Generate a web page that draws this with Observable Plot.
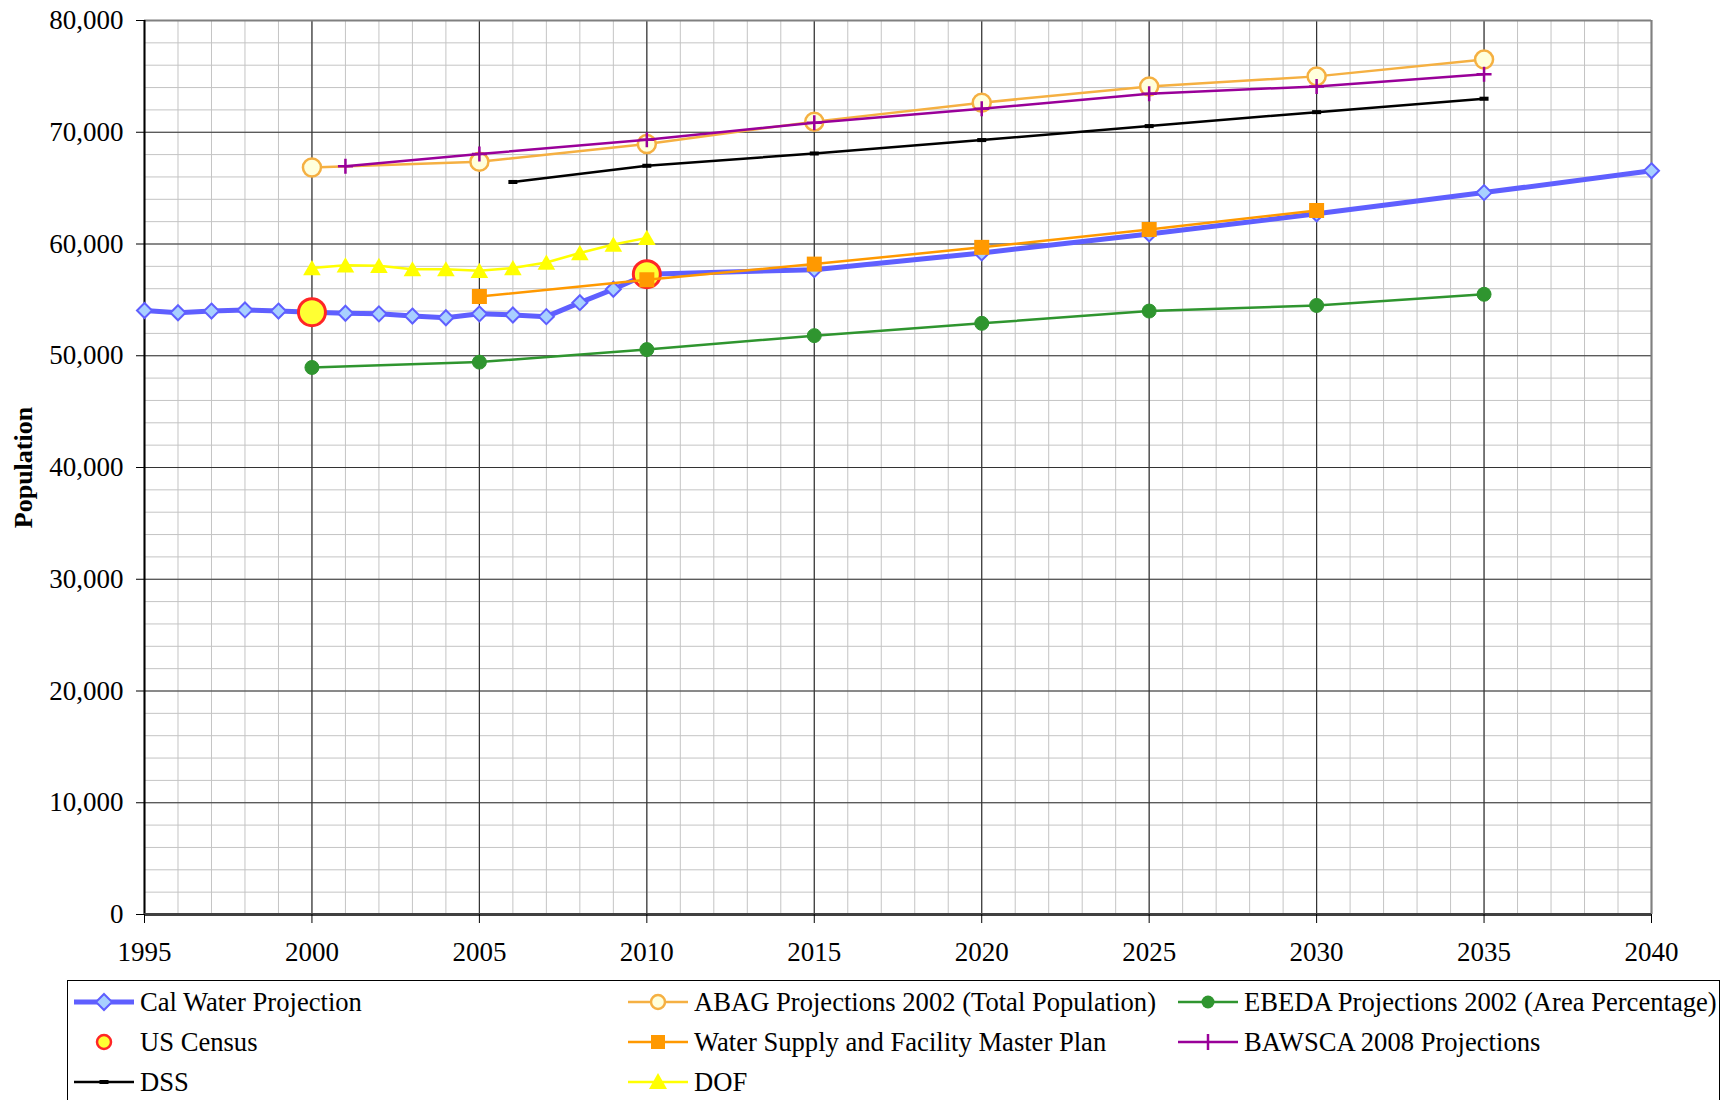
<!DOCTYPE html>
<html>
<head>
<meta charset="utf-8">
<script src="https://cdn.jsdelivr.net/npm/d3@7"></script>
<script src="https://cdn.jsdelivr.net/npm/@observablehq/plot@0.6"></script>
<style>
  html, body { margin: 0; padding: 0; background: #fff; }
  #wrap { position: relative; width: 1734px; height: 1100px; overflow: hidden; font-family: 'Liberation Serif', 'Times New Roman', serif; }
  #chart svg { display: block; }
  #legend { position: absolute; left: 67px; top: 980px; width: 1653px; height: 200px; border: 1.5px solid #000; box-sizing: border-box; background: #fff; }
  .item { position: absolute; height: 40px; display: flex; align-items: center; font-size: 26.6px; color: #000; white-space: nowrap; }
  .item svg { display: block; margin-right: 6px; }
</style>
</head>
<body>
<div id="wrap">
  <div id="chart"></div>
  <div id="legend"></div>
</div>
<script>
// ---------- data ----------
const calWaterYears = [1995,1996,1997,1998,1999,2000,2001,2002,2003,2004,2005,2006,2007,2008,2009,2010,2015,2020,2025,2030,2035,2040];
const calWaterPop   = [54050,53850,54000,54100,54000,53900,53800,53750,53550,53400,53750,53650,53500,54750,55950,57300,57700,59200,60900,62700,64600,66550];

const abagYears = [2000,2005,2010,2015,2020,2025,2030,2035];
const abagPop   = [66850,67350,68950,70950,72650,74100,75000,76500];

const ebedaYears = [2000,2005,2010,2015,2020,2025,2030,2035];
const ebedaPop   = [48950,49430,50550,51800,52900,54000,54500,55500];

const censusYears = [2000,2010];
const censusPop   = [53900,57300];

const masterPlanYears = [2005,2010,2015,2020,2025,2030];
const masterPlanPop   = [55300,56800,58200,59700,61300,63000];

const bawscaYears = [2001,2005,2010,2015,2020,2025,2030,2035];
const bawscaPop   = [66950,68050,69330,70850,72100,73450,74100,75200];

const dssYears = [2006,2010,2015,2020,2025,2030,2035];
const dssPop   = [65550,67000,68100,69300,70550,71800,73000];

const dofYears = [2000,2001,2002,2003,2004,2005,2006,2007,2008,2009,2010];
const dofPop   = [57850,58100,58050,57750,57750,57600,57850,58350,59200,59950,60550];

const xTicks = [1995,2000,2005,2010,2015,2020,2025,2030,2035,2040];
const yTicks = [0,10000,20000,30000,40000,50000,60000,70000,80000];
const minorYears = d3.range(1995, 2041, 1);
const minorPops = d3.range(0, 80001, 2000);

const seriesNames = [
  "Cal Water Projection",
  "ABAG Projections 2002 (Total Population)",
  "EBEDA Projections 2002 (Area Percentage)",
  "US Census",
  "Water Supply and Facility Master Plan",
  "BAWSCA 2008 Projections",
  "DSS",
  "DOF"
];

// ---------- helpers ----------
const tbl = (xs, ys) => xs.map((x, i) => ({year: x, pop: ys[i]}));
const calWater = tbl(calWaterYears, calWaterPop);
const abag = tbl(abagYears, abagPop);
const ebeda = tbl(ebedaYears, ebedaPop);
const census = tbl(censusYears, censusPop);
const master = tbl(masterPlanYears, masterPlanPop);
const bawsca = tbl(bawscaYears, bawscaPop);
const dss = tbl(dssYears, dssPop);
const dof = tbl(dofYears, dofPop);

const rad = size => Math.sqrt(size / Math.PI);
const diamondSym = {draw(c, size) { const s = rad(size); c.moveTo(0,-s); c.lineTo(s,0); c.lineTo(0,s); c.lineTo(-s,0); c.closePath(); }};
const squareSym = {draw(c, size) { const s = rad(size); c.rect(-s,-s,2*s,2*s); }};
const triSym = {draw(c, size) { const s = rad(size); c.moveTo(0,-s); c.lineTo(s*1.1,s*0.9); c.lineTo(-s*1.1,s*0.9); c.closePath(); }};
const plusSym = {draw(c, size) { const s = rad(size); c.moveTo(-s,0); c.lineTo(s,0); c.moveTo(0,-s); c.lineTo(0,s); }};
const dashSym = {draw(c, size) { const s = rad(size); c.rect(-s,-s*0.45,2*s,0.9*s); }};

const C = {
  cal: "#5f5fff", calFill: "#a8d0ff",
  abag: "#f5b042", abagFill: "#ffffdc",
  ebeda: "#2f952f",
  censusFill: "#ffff33", censusStroke: "#ff2626",
  master: "#ff9900",
  bawsca: "#990099",
  dss: "#000000",
  dof: "#ffff00"
};

const xy = {x: "year", y: "pop"};

const chart = Plot.plot({
  width: 1734,
  height: 978,
  marginLeft: 144,
  marginRight: 83,
  marginTop: 20,
  marginBottom: 64,
  x: {domain: [1995, 2040]},
  y: {domain: [0, 80000]},
  style: {fontFamily: "'Liberation Serif', 'Times New Roman', serif", fontSize: "27px", color: "#000", background: "#fff"},
  marks: [
    Plot.ruleX(minorYears, {stroke: "#c4c4c4", strokeWidth: 1}),
    Plot.ruleY(minorPops, {stroke: "#c4c4c4", strokeWidth: 1}),
    Plot.ruleX(xTicks, {stroke: "#333", strokeWidth: 1.2}),
    Plot.ruleY(yTicks, {stroke: "#333", strokeWidth: 1.2}),
    Plot.ruleY([80000], {stroke: "#808080", strokeWidth: 2}),
    Plot.ruleX([2040], {stroke: "#808080", strokeWidth: 2}),
    Plot.ruleX([1995], {stroke: "#000", strokeWidth: 2}),
    Plot.ruleY([0], {stroke: "#404040", strokeWidth: 3}),
    Plot.axisX({ticks: xTicks, tickFormat: d => String(d), tickSize: 9, tickPadding: 18, label: null, fontSize: 27}),
    Plot.axisY({ticks: yTicks, tickFormat: d3.format(","), tickSize: 8, tickPadding: 13, label: null, fontSize: 27}),
    Plot.text(["Population"], {frameAnchor: "left", textAnchor: "middle", dx: -121, rotate: -90, fontWeight: "bold", fontSize: 26}),

    // Cal Water
    Plot.line(calWater, {...xy, stroke: C.cal, strokeWidth: 5, strokeLinejoin: "round"}),
    Plot.dot(calWater, {...xy, symbol: diamondSym, r: 7.5, fill: C.calFill, stroke: C.cal, strokeWidth: 2}),
    // ABAG
    Plot.line(abag, {...xy, stroke: C.abag, strokeWidth: 2.5}),
    Plot.dot(abag, {...xy, symbol: "circle", r: 9, fill: C.abagFill, stroke: C.abag, strokeWidth: 2.5}),
    // EBEDA
    Plot.line(ebeda, {...xy, stroke: C.ebeda, strokeWidth: 2.5}),
    Plot.dot(ebeda, {...xy, symbol: "circle", r: 7, fill: C.ebeda, stroke: C.ebeda, strokeWidth: 1}),
    // US Census
    Plot.dot(census, {...xy, symbol: "circle", r: 13.5, fill: C.censusFill, stroke: C.censusStroke, strokeWidth: 3}),
    // Water Supply and Facility Master Plan
    Plot.line(master, {...xy, stroke: C.master, strokeWidth: 2.5}),
    Plot.dot(master, {...xy, symbol: squareSym, r: 7.5, fill: C.master, stroke: "none"}),
    // BAWSCA
    Plot.line(bawsca, {...xy, stroke: C.bawsca, strokeWidth: 2.5}),
    Plot.dot(bawsca, {...xy, symbol: plusSym, r: 7.5, fill: "none", stroke: C.bawsca, strokeWidth: 2.5}),
    // DSS
    Plot.line(dss, {...xy, stroke: C.dss, strokeWidth: 2.5}),
    Plot.dot(dss, {...xy, symbol: dashSym, r: 4.5, fill: C.dss, stroke: "none"}),
    // DOF
    Plot.line(dof, {...xy, stroke: C.dof, strokeWidth: 2.5}),
    Plot.dot(dof, {...xy, symbol: triSym, r: 8, fill: C.dof, stroke: "none"})
  ]
});
document.getElementById("chart").appendChild(chart);

// ---------- legend ----------
const swatches = {
  "Cal Water Projection": `<line x1="0" y1="12" x2="60" y2="12" stroke="${C.cal}" stroke-width="5"/><path d="M30,4 L38,12 L30,20 L22,12 Z" fill="${C.calFill}" stroke="${C.cal}" stroke-width="2"/>`,
  "ABAG Projections 2002 (Total Population)": `<line x1="0" y1="12" x2="60" y2="12" stroke="${C.abag}" stroke-width="2.5"/><circle cx="30" cy="12" r="7" fill="${C.abagFill}" stroke="${C.abag}" stroke-width="2.5"/>`,
  "EBEDA Projections 2002 (Area Percentage)": `<line x1="0" y1="12" x2="60" y2="12" stroke="${C.ebeda}" stroke-width="2.5"/><circle cx="30" cy="12" r="6.5" fill="${C.ebeda}"/>`,
  "US Census": `<circle cx="30" cy="12" r="7" fill="${C.censusFill}" stroke="${C.censusStroke}" stroke-width="2.5"/>`,
  "Water Supply and Facility Master Plan": `<line x1="0" y1="12" x2="60" y2="12" stroke="${C.master}" stroke-width="2.5"/><rect x="23" y="5" width="14" height="14" fill="${C.master}"/>`,
  "BAWSCA 2008 Projections": `<line x1="0" y1="12" x2="60" y2="12" stroke="${C.bawsca}" stroke-width="2.5"/><path d="M30,4 L30,20" stroke="${C.bawsca}" stroke-width="2.5"/>`,
  "DSS": `<line x1="0" y1="12" x2="60" y2="12" stroke="${C.dss}" stroke-width="2.5"/><rect x="25.5" y="10" width="9" height="4" fill="${C.dss}"/>`,
  "DOF": `<line x1="0" y1="12" x2="60" y2="12" stroke="${C.dof}" stroke-width="2.5"/><path d="M30,3 L39,19 L21,19 Z" fill="${C.dof}"/>`
};
const colLeft = [6, 560, 1110];
const legend = document.getElementById("legend");
seriesNames.forEach((name, i) => {
  const col = i % 3, row = Math.floor(i / 3);
  const div = document.createElement("div");
  div.className = "item";
  div.style.left = colLeft[col] + "px";
  div.style.top = (1 + row * 40) + "px";
  div.innerHTML = `<svg width="60" height="24">${swatches[name]}</svg><span>${name}</span>`;
  legend.appendChild(div);
});
</script>
</body>
</html>
